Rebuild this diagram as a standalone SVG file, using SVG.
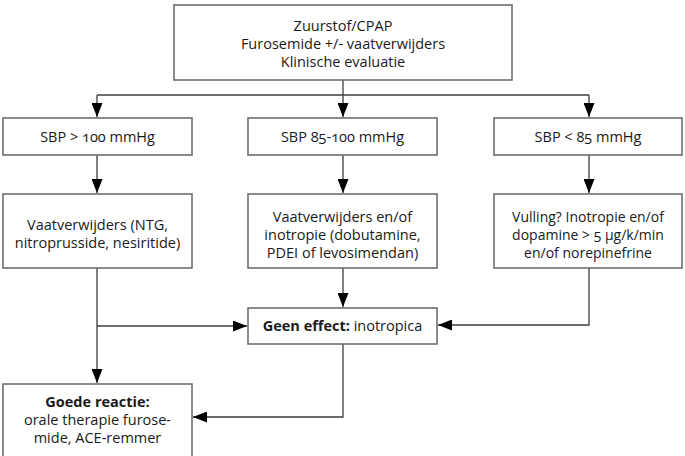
<svg xmlns="http://www.w3.org/2000/svg" width="685" height="456" viewBox="0 0 685 456">
  <defs>
    <marker id="arrow" viewBox="0 0 14 11" refX="14" refY="5.5" markerWidth="14" markerHeight="11" markerUnits="userSpaceOnUse" orient="auto">
      <path d="M0,0 L14,5.5 L0,11 z" fill="#000"/>
    </marker>
    <style>
      .box { fill: #fff; stroke: #6e6e6e; stroke-width: 1.6; }
      .txt { font-family: "Open Sans", "Liberation Sans", sans-serif; font-size: 14.5px; fill: #1a1a1a; text-anchor: middle; font-variant-numeric: oldstyle-nums; font-feature-settings: "onum" 1; }
      .sm { font-size: 14px; }
      .b { font-weight: bold; }
      .line { fill: none; stroke: #3c3c3c; stroke-width: 1.3; }
    </style>
  </defs>
  <rect width="685" height="456" fill="#fff"/>

  <!-- connectors -->
  <g id="connectors">
    <path class="line" d="M343,80 V117" marker-end="url(#arrow)"/>
    <path class="line" d="M97,95 H589"/>
    <path class="line" d="M97,95 V117" marker-end="url(#arrow)"/>
    <path class="line" d="M589,95 V117" marker-end="url(#arrow)"/>
    <path class="line" d="M97,155 V193" marker-end="url(#arrow)"/>
    <path class="line" d="M343,155 V193" marker-end="url(#arrow)"/>
    <path class="line" d="M589,155 V193" marker-end="url(#arrow)"/>
    <path class="line" d="M97,268 V383" marker-end="url(#arrow)"/>
    <path class="line" d="M97,326 H247" marker-end="url(#arrow)"/>
    <path class="line" d="M343,268 V307" marker-end="url(#arrow)"/>
    <path class="line" d="M589,268 V325 H438" marker-end="url(#arrow)"/>
    <path class="line" d="M343,344 V417 H193" marker-end="url(#arrow)"/>
  </g>

  <g id="start">
    <rect class="box" x="174" y="5" width="338" height="75"/>
    <text class="txt" x="343" y="31">Zuurstof/CPAP</text>
    <text class="txt" x="343" y="49">Furosemide +/- vaatverwijders</text>
    <text class="txt" x="343" y="67">Klinische evaluatie</text>
  </g>

  <g id="sbp-high">
    <rect class="box" x="3" y="118" width="189" height="37"/>
    <text class="txt" x="97.5" y="141.5">SBP &gt; 100 mmHg</text>
  </g>
  <g id="sbp-mid">
    <rect class="box" x="248" y="118" width="189" height="37"/>
    <text class="txt" x="342.5" y="141.5">SBP 85-100 mmHg</text>
  </g>
  <g id="sbp-low">
    <rect class="box" x="494" y="118" width="188" height="37"/>
    <text class="txt" x="588" y="141.5">SBP &lt; 85 mmHg</text>
  </g>

  <g id="treat-high">
    <rect class="box" x="3" y="194" width="189" height="74"/>
    <text class="txt" x="97.5" y="230">Vaatverwijders (NTG,</text>
    <text class="txt" x="97.5" y="248">nitroprusside, nesiritide)</text>
  </g>
  <g id="treat-mid">
    <rect class="box" x="248" y="194" width="189" height="74"/>
    <text class="txt" x="342.5" y="222">Vaatverwijders en/of</text>
    <text class="txt" x="342.5" y="240">inotropie (dobutamine,</text>
    <text class="txt" x="342.5" y="258">PDEI of levosimendan)</text>
  </g>
  <g id="treat-low">
    <rect class="box" x="494" y="194" width="188" height="74"/>
    <text class="txt sm" x="588" y="222">Vulling? Inotropie en/of</text>
    <text class="txt sm" x="588" y="240">dopamine &gt; 5 µg/k/min</text>
    <text class="txt sm" x="588" y="258">en/of norepinefrine</text>
  </g>

  <g id="no-effect">
    <rect class="box" x="248" y="308" width="189" height="36"/>
    <text class="txt" x="342.5" y="331"><tspan class="b">Geen effect:</tspan> inotropica</text>
  </g>

  <g id="good-response">
    <rect class="box" x="3" y="384" width="189" height="80"/>
    <text class="txt b" x="97.5" y="407">Goede reactie:</text>
    <text class="txt" x="97.5" y="425">orale therapie furose-</text>
    <text class="txt" x="97.5" y="443">mide, ACE-remmer</text>
  </g>
</svg>
